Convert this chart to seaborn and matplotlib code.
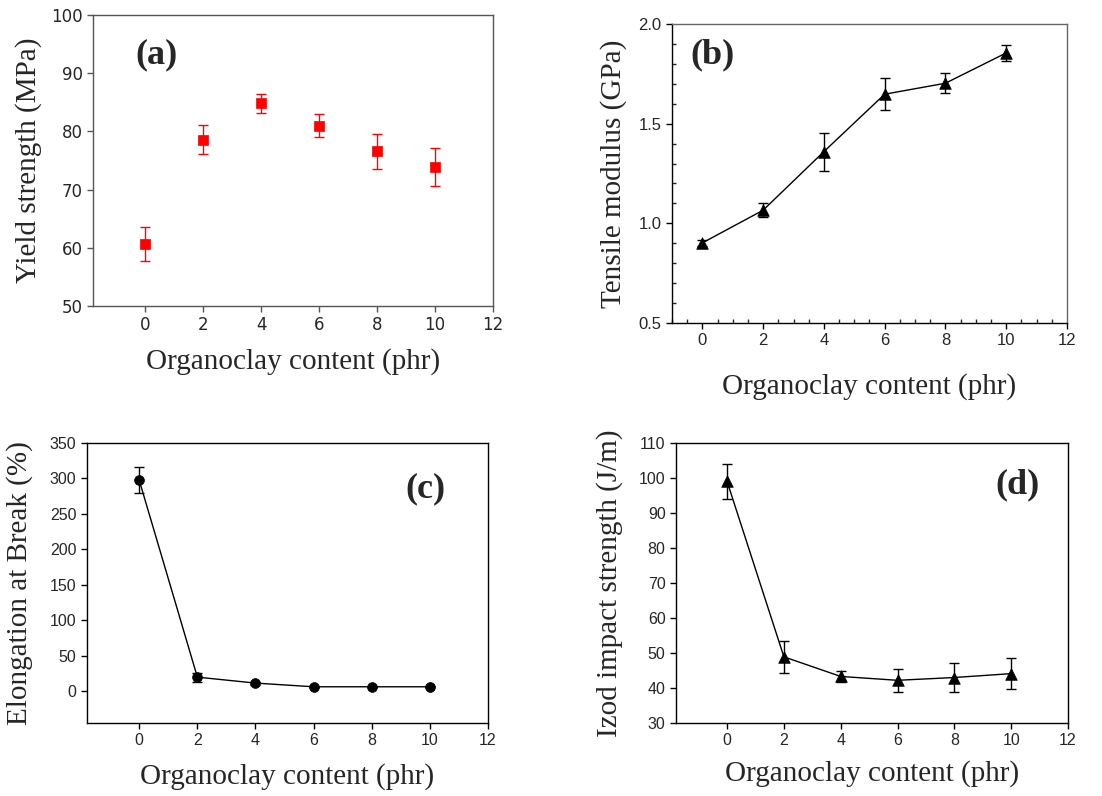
import matplotlib
matplotlib.use("Agg")
import matplotlib.pyplot as plt
import seaborn as sns
import pandas as pd
from matplotlib.ticker import MultipleLocator

# ---- data ----
content = [0, 2, 4, 6, 8, 10]
yield_strength = [60.6, 78.6, 84.8, 81.0, 76.6, 73.9]
yield_err = [2.9, 2.5, 1.6, 2.0, 3.0, 3.3]
tensile_modulus = [0.902, 1.066, 1.360, 1.648, 1.703, 1.855]
modulus_err = [0.015, 0.035, 0.095, 0.079, 0.05, 0.042]
elongation = [297.3, 19.7, 11.3, 6.1, 6.1, 6.1]
elong_err = [18.5, 6.5, 2.0, 1.0, 1.0, 1.0]
izod = [99.0, 48.9, 43.3, 42.2, 43.0, 44.1]
izod_err = [4.9, 4.6, 1.6, 3.3, 4.1, 4.4]
x_ticks = [0, 2, 4, 6, 8, 10, 12]

sns.set_style("ticks")
plt.rcParams['font.family'] = ['Liberation Sans', 'DejaVu Sans']

fig = plt.figure(figsize=(11.02, 7.96), dpi=100)

serif = 'Liberation Serif'
label_fs = 21


def style_axes(ax, spine_color, tick_family, tick_fs):
    for s in ax.spines.values():
        s.set_visible(True)
        s.set_color(spine_color)
        s.set_linewidth(1.0)
    ax.tick_params(axis='both', which='major', direction='out', length=4,
                   width=1, color=spine_color, labelsize=tick_fs,
                   top=False, right=False)
    ax.set_xticks(x_ticks)
    ax.set_xticklabels([str(t) for t in x_ticks], fontfamily=tick_family, fontsize=tick_fs)


def panel(ax, x, y, err, marker, color, ms, line, ylim, yticks, ylabel, tag, tagpos,
          ylab_x, xlab_y, xlim=(-1.8, 12), spine_color='black',
          tick_family='Liberation Sans', tick_fs=12):
    df = pd.DataFrame({'x': x, 'y': y})
    if line:
        sns.lineplot(data=df, x='x', y='y', ax=ax, color=color, lw=1.0,
                     marker=None, zorder=2)
    ax.errorbar(x, y, yerr=err, fmt='none', ecolor=color, elinewidth=1.0,
                capsize=3.5, capthick=1.0, zorder=3)
    sns.scatterplot(data=df, x='x', y='y', ax=ax, color=color, marker=marker,
                    s=ms, edgecolor=color, linewidth=0.5, zorder=4)
    ax.set_xlim(*xlim)
    ax.set_ylim(*ylim)
    ax.set_yticks(yticks)
    ax.set_yticklabels([f"{t:g}" if isinstance(t, int) else f"{t:.1f}" for t in yticks],
                       fontfamily=tick_family, fontsize=tick_fs)
    style_axes(ax, spine_color, tick_family, tick_fs)
    ax.set_xlabel('Organoclay content (phr)', fontfamily=serif, fontsize=label_fs)
    ax.set_ylabel(ylabel, fontfamily=serif, fontsize=label_fs)
    ax.yaxis.set_label_coords(ylab_x, 0.5)
    ax.xaxis.set_label_coords(0.5, xlab_y)
    ax.text(tagpos[0], tagpos[1], tag, transform=ax.transAxes, fontfamily=serif,
            fontweight='bold', fontsize=26, ha='left', va='center')


ax_a = fig.add_axes([0.0844, 0.6156, 0.363, 0.3656])
panel(ax_a, content, yield_strength, yield_err, 's', '#ff0000', 50, False,
      (50, 100), [50, 60, 70, 80, 90, 100], 'Yield strength (MPa)', '(a)',
      (0.105, 0.862), -0.128, -0.144, spine_color='#555555',
      tick_family='DejaVu Sans', tick_fs=12)

ax_b = fig.add_axes([0.6098, 0.5942, 0.3584, 0.3756])
panel(ax_b, content, tensile_modulus, modulus_err, '^', 'black', 70, True,
      (0.5, 2.0), [0.5, 1.0, 1.5, 2.0], 'Tensile modulus (GPa)', '(b)',
      (0.046, 0.896), -0.114, -0.167, xlim=(-1.0, 12), tick_fs=12)
ax_b.xaxis.set_minor_locator(MultipleLocator(0.5))
ax_b.yaxis.set_minor_locator(MultipleLocator(0.1))
ax_b.tick_params(which='minor', direction='in', length=3, width=1,
                 bottom=True, left=True, top=False, right=False)
ax_b.spines['top'].set_color('#666666')
ax_b.spines['right'].set_color('#666666')

ax_c = fig.add_axes([0.0789, 0.0917, 0.3639, 0.3518])
panel(ax_c, content, elongation, elong_err, 'o', 'black', 50, True,
      (-45, 350), [0, 50, 100, 150, 200, 250, 300, 350], 'Elongation at Break (%)', '(c)',
      (0.793, 0.836), -0.135, -0.143, tick_fs=11.5)

ax_d = fig.add_axes([0.6134, 0.0917, 0.3557, 0.3518])
panel(ax_d, content, izod, izod_err, '^', 'black', 70, True,
      (30, 110), [30, 40, 50, 60, 70, 80, 90, 100, 110], 'Izod impact strength (J/m)', '(d)',
      (0.814, 0.85), -0.135, -0.132, tick_fs=11.5)

fig.savefig('out.png', dpi=100)
